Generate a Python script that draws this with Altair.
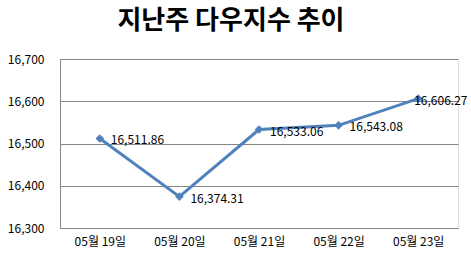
import altair as alt
import pandas as pd

dates = ["05월 19일", "05월 20일", "05월 21일", "05월 22일", "05월 23일"]
values = [16511.86, 16374.31, 16533.06, 16543.08, 16606.27]
labels = ["16,511.86", "16,374.31", "16,533.06", "16,543.08", "16,606.27"]

df = pd.DataFrame({"date": dates, "value": values, "label": labels, "idx": list(range(len(dates)))})

FONT = "Noto Sans CJK KR"
COLOR = "#4F81BD"

x = alt.X("date:N", sort=dates, title=None,
          scale=alt.Scale(paddingInner=0, paddingOuter=0.5),
          axis=alt.Axis(labelAngle=0, ticks=False, domainColor="#868686",
                        labelPadding=8, labelFont=FONT, labelFontSize=12, labelColor="#000000"))
y = alt.Y("value:Q", title=None,
          scale=alt.Scale(domain=[16300, 16700], nice=False, zero=False),
          axis=alt.Axis(values=[16300, 16400, 16500, 16600, 16700], format=",d", ticks=False,
                        domain=True, domainColor="#868686", gridColor="#868686",
                        labelPadding=16, labelFont=FONT, labelFontSize=12, labelColor="#000000"))

base = alt.Chart(df)
line = base.mark_line(color=COLOR, strokeWidth=3).encode(x=x, y=y)
pts = base.mark_point(shape="diamond", filled=True, color=COLOR, size=75, opacity=1).encode(x=x, y=y)
txt = base.transform_filter("datum.idx < 4").mark_text(
    align="left", baseline="middle", dx=11, dy=2, font=FONT, fontSize=12, color="#000000"
).encode(x=x, y=y, text="label:N")
txt_last = base.transform_filter("datum.idx == 4").mark_text(
    align="left", baseline="middle", dx=-4, dy=2, font=FONT, fontSize=12, color="#000000"
).encode(x=x, y=y, text="label:N")

chart = alt.layer(line, pts, txt, txt_last).properties(
    width=398, height=169,
    title=alt.TitleParams("지난주 다우지수 추이", font=FONT, fontSize=26, fontWeight="bold",
                          anchor="middle", dx=-28, offset=19, color="#000000"),
    autosize=alt.AutoSizeParams(type="none"),
    padding={"left": 60, "top": 59, "right": 13, "bottom": 42},
).configure_view(stroke=None).configure(background="white")

chart.save("out.html", embed_options={"renderer": "svg", "actions": False})
